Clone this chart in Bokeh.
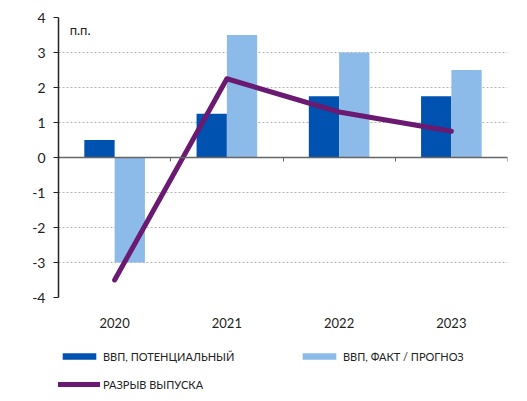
import numpy as np
from bokeh.plotting import figure
from bokeh.layouts import column
from bokeh.models import (Range1d, FixedTicker, LinearAxis, Label, Legend, LegendItem, ColumnDataSource)
from bokeh.embed import file_html
from bokeh.resources import INLINE

categories = ["2020", "2021", "2022", "2023"]
gdp_potential = [0.5, 1.25, 1.75, 1.75]
gdp_actual = [-3.0, 3.5, 3.0, 2.5]
output_gap = [-3.5, 2.25, 1.3, 0.75]
y_ticks = [-4, -3, -2, -1, 0, 1, 2, 3, 4]
legend_labels = ["ВВП, ПОТЕНЦИАЛЬНЫЙ", "ВВП, ФАКТ / ПРОГНОЗ", "РАЗРЫВ ВЫПУСКА"]

DARK = "#0052B1"
LIGHT = "#8CBBE9"
PURPLE = "#6A1A70"
FONT = "Lato"

xc = np.arange(len(categories)) + 0.5
src = ColumnDataSource(dict(xd=xc - 0.135, xl=xc + 0.135, pot=gdp_potential,
                            act=gdp_actual, x=xc, gap=output_gap))

p = figure(width=520, height=335, output_backend="svg", toolbar_location=None,
           x_range=Range1d(0, len(categories)), y_range=Range1d(-4, 4),
           min_border_left=58, min_border_right=13, min_border_top=17, min_border_bottom=38)
p.outline_line_color = None
p.background_fill_color = "white"

# grid
p.xgrid.grid_line_color = None
p.ygrid.ticker = FixedTicker(ticks=y_ticks)
p.ygrid.grid_line_color = "#b5b5b5"
p.ygrid.grid_line_dash = "2 2"
p.ygrid.grid_line_width = 1

# y axis
p.yaxis.ticker = FixedTicker(ticks=y_ticks)
p.yaxis.major_label_overrides = {t: str(t) for t in y_ticks}
p.yaxis.axis_line_color = "#222222"
p.yaxis.axis_line_width = 1.5
p.yaxis.major_tick_line_color = "#222222"
p.yaxis.major_tick_out = 5
p.yaxis.major_tick_in = 0
p.yaxis.minor_tick_line_color = None
p.yaxis.major_label_standoff = 8
p.yaxis.major_label_text_font = FONT
p.yaxis.major_label_text_font_size = "14px"
p.yaxis.major_label_text_color = "#222222"

# x axis (category labels)
p.xaxis.ticker = FixedTicker(ticks=list(xc))
p.xaxis.major_label_overrides = {float(v): c for v, c in zip(xc, categories)}
p.xaxis.axis_line_color = None
p.xaxis.major_tick_line_color = None
p.xaxis.minor_tick_line_color = None
p.xaxis.major_label_standoff = 14
p.xaxis.major_label_text_font = FONT
p.xaxis.major_label_text_font_size = "13px"
p.xaxis.major_label_text_color = "#222222"

# zero line axis with boundary ticks
zero_axis = LinearAxis(fixed_location=0, ticker=FixedTicker(ticks=list(range(1, len(categories) + 1))))
zero_axis.axis_line_color = "#666666"
zero_axis.axis_line_width = 1.5
zero_axis.major_tick_line_color = "#666666"
zero_axis.major_tick_out = 4
zero_axis.major_tick_in = 0
zero_axis.minor_tick_line_color = None
zero_axis.major_label_text_font_size = "0px"
zero_axis.major_label_text_color = None
p.add_layout(zero_axis, "below")

p.vbar(x="xd", top="pot", bottom=0, width=0.27, source=src, fill_color=DARK, line_color=None)
p.vbar(x="xl", top="act", bottom=0, width=0.27, source=src, fill_color=LIGHT, line_color=None)
p.line(x="x", y="gap", source=src, line_color=PURPLE, line_width=5, line_cap="round", line_join="round")

p.add_layout(Label(x=0.1, y=3.63, text="п.п.", text_font=FONT, text_font_size="13px",
                   text_color="#222222", text_baseline="middle"))

# legend figure (frame aligned with main figure's frame)
q = figure(width=520, height=60, output_backend="svg", toolbar_location=None,
           x_range=Range1d(0, len(categories)), y_range=Range1d(-4, 4),
           min_border_left=58, min_border_right=13, min_border_top=0, min_border_bottom=0)
q.axis.visible = False
q.grid.visible = False
q.outline_line_color = None
g1 = q.vbar(x="xd", top="pot", bottom=0, width=0.27, source=src, fill_color=DARK, line_color=None, visible=False)
g2 = q.vbar(x="xl", top="act", bottom=0, width=0.27, source=src, fill_color=LIGHT, line_color=None, visible=False)
g3 = q.line(x="x", y="gap", source=src, line_color=PURPLE, line_width=5, line_cap="round", visible=False)

common = dict(orientation="horizontal", border_line_color=None, background_fill_alpha=0,
              inactive_fill_alpha=0, padding=0, margin=0, spacing=0, glyph_width=42, glyph_height=8,
              label_standoff=3, label_text_font=FONT, label_text_font_size="11px",
              label_text_color="#222222", label_height=14, click_policy="none")
q.add_layout(Legend(items=[LegendItem(label=legend_labels[0], renderers=[g1])], location=(0, 32), **common), "center")
q.add_layout(Legend(items=[LegendItem(label=legend_labels[1], renderers=[g2])], location=(240, 32), **common), "center")
q.add_layout(Legend(items=[LegendItem(label=legend_labels[2], renderers=[g3])], location=(0, 4), **common), "center")

open("out.html", "w").write(file_html(column(p, q, spacing=0), INLINE))
